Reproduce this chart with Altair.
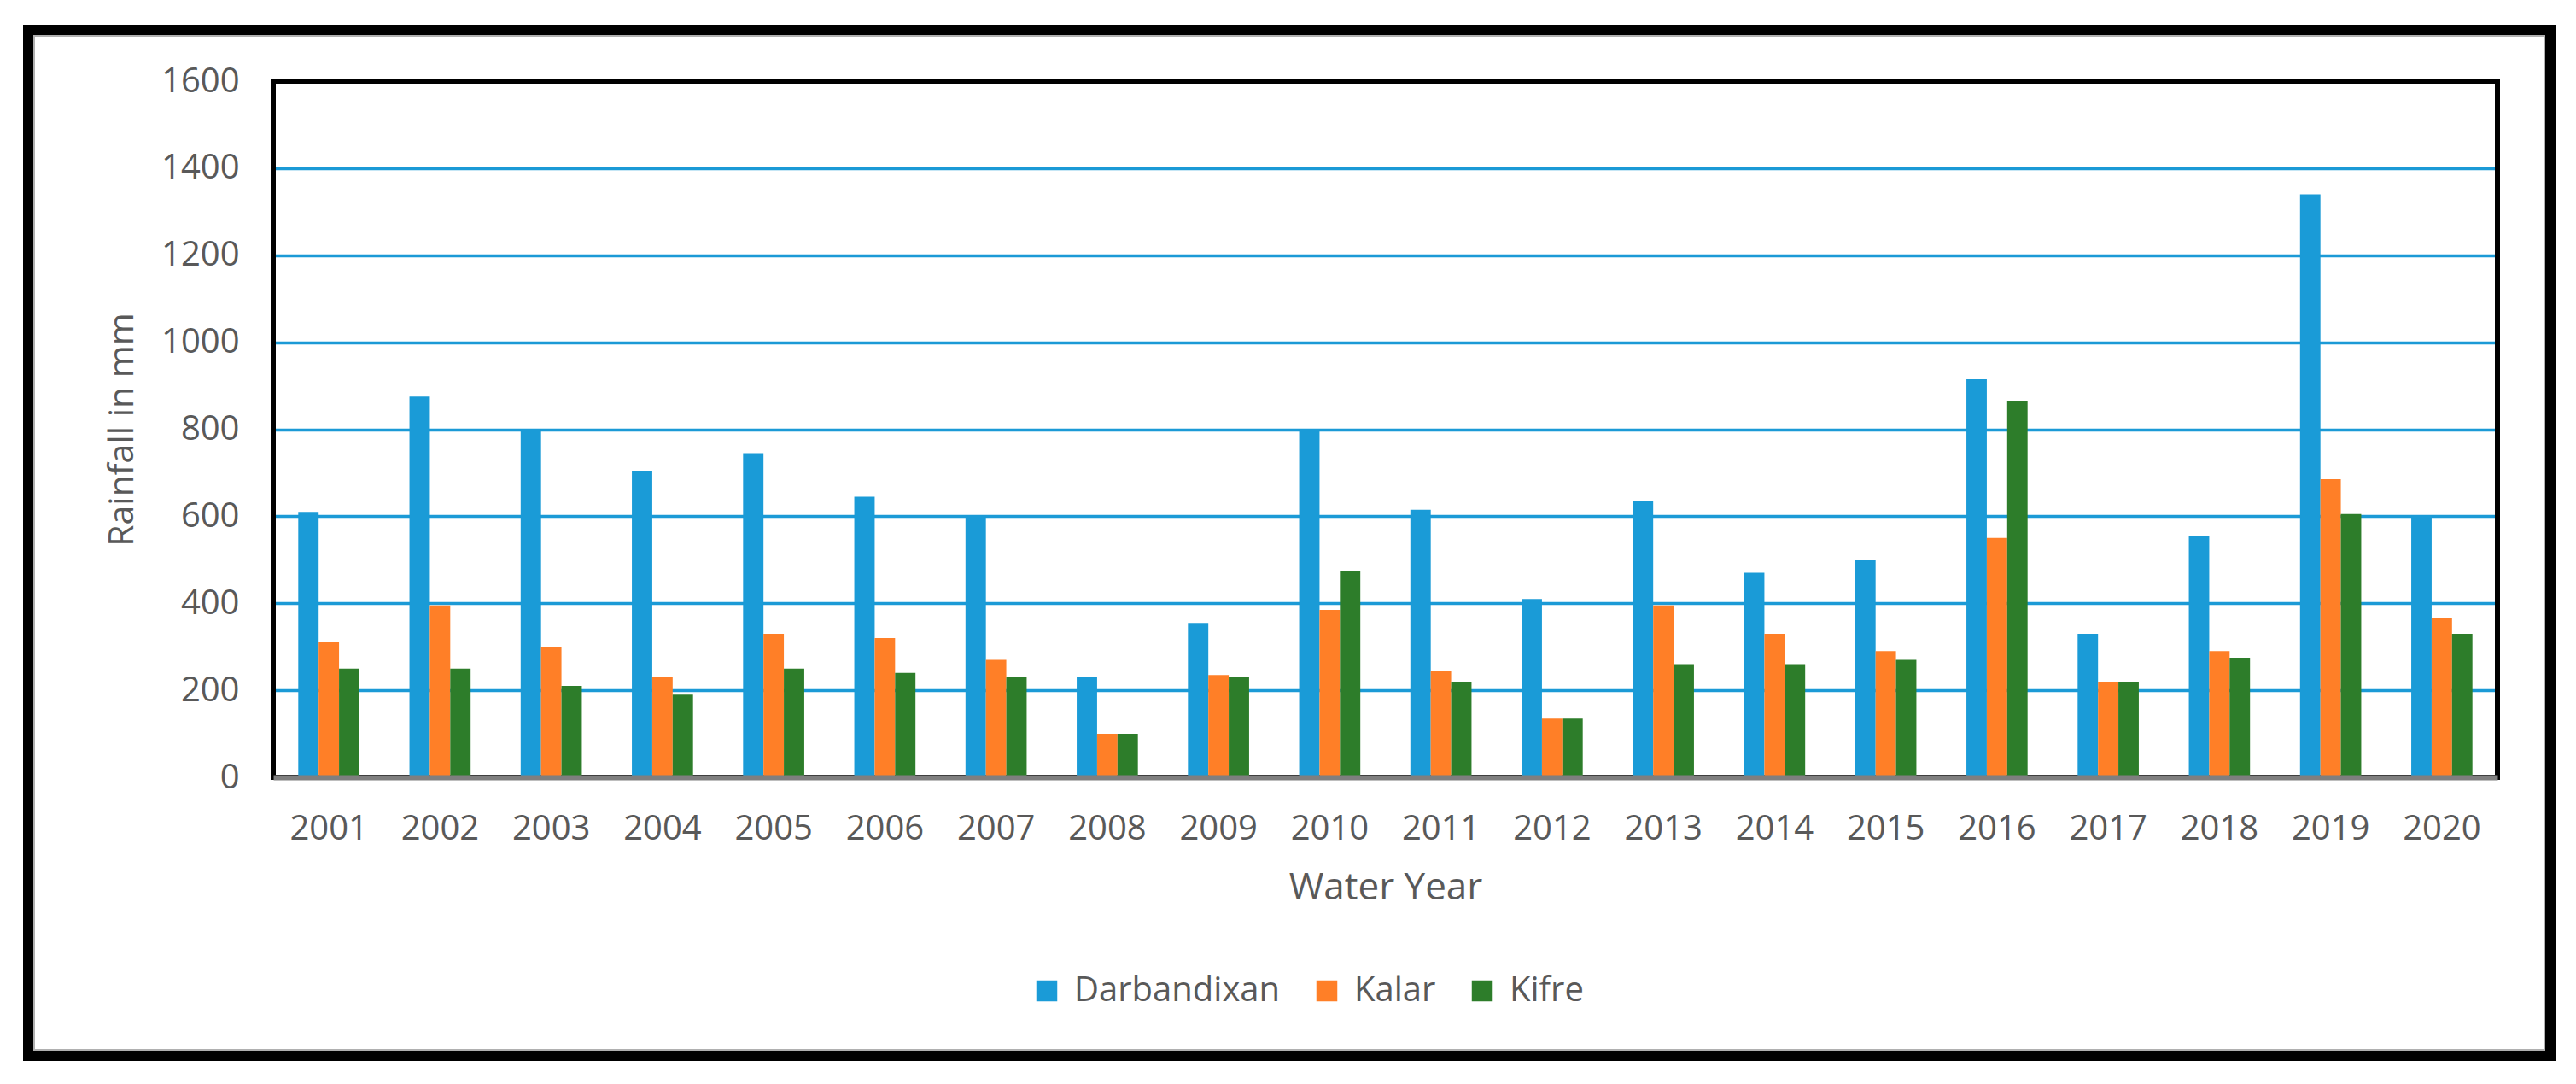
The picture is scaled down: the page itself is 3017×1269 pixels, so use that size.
import altair as alt
import pandas as pd

years = [str(y) for y in range(2001, 2021)]
stations = ["Darbandixan", "Kalar", "Kifre"]
darbandixan = [610, 875, 800, 705, 745, 645, 600, 230, 355, 800,
               615, 410, 635, 470, 500, 915, 330, 555, 1340, 600]
kalar = [310, 395, 300, 230, 330, 320, 270, 100, 235, 385,
         245, 135, 395, 330, 290, 550, 220, 290, 685, 365]
kifre = [250, 250, 210, 190, 250, 240, 230, 100, 230, 475,
         220, 135, 260, 260, 270, 865, 220, 275, 605, 330]
colors = ["#1a9bd7", "#ff7f27", "#2d7d2a"]

rows = []
for name, vals in zip(stations, [darbandixan, kalar, kifre]):
    for y, v in zip(years, vals):
        rows.append({"year": y, "station": name, "rain": v})
df = pd.DataFrame(rows)

W, H = 2605, 815
FONT = "Open Sans"
GREY = "#595959"

bars = alt.Chart(df).mark_bar().encode(
    x=alt.X("year:N", sort=years,
            scale=alt.Scale(paddingInner=0.45, paddingOuter=0.225),
            axis=alt.Axis(title="Water Year", labelAngle=0, labelFont=FONT,
                          labelFontSize=40, labelColor=GREY, labelPadding=40,
                          ticks=False, tickSize=0, domainColor="#7f7f7f",
                          domainWidth=6, zindex=1, titleFont=FONT, titleFontSize=44,
                          titleColor=GREY, titleFontWeight="normal",
                          titleBaseline="alphabetic", titleY=142)),
    xOffset=alt.XOffset("station:N", sort=stations,
                        scale=alt.Scale(paddingInner=0, paddingOuter=0)),
    y=alt.Y("rain:Q",
            scale=alt.Scale(domain=[0, 1600], nice=False),
            axis=alt.Axis(title="Rainfall in mm", values=list(range(0, 1601, 200)),
                          format="d",
                          labelFont=FONT, labelFontSize=40, labelColor=GREY,
                          labelPadding=40, ticks=False, tickSize=0, domain=False,
                          grid=True, gridWidth=3.5,
                          gridColor=alt.condition("datum.value >= 1600 || datum.value <= 0",
                                                  alt.value("black"), alt.value("#1b9ad6")),
                          titleFont=FONT, titleFontSize=41, titleColor=GREY,
                          titleFontWeight="normal", titleBaseline="alphabetic",
                          titleX=-165, titleY=H / 2)),
    color=alt.Color("station:N", sort=stations,
                    scale=alt.Scale(domain=stations, range=colors),
                    legend=alt.Legend(title=None, orient="none", direction="horizontal",
                                      legendX=886, legendY=1045, padding=0,
                                      symbolType="square", symbolSize=600,
                                      symbolStrokeWidth=0, labelFont=FONT,
                                      labelFontSize=40, labelColor=GREY,
                                      labelLimit=1000,
                                      labelOffset=12, columnPadding=34)),
)

frame_df = pd.DataFrame({"k": [0]})
frame = alt.Chart(frame_df).mark_rect(filled=False, stroke="black", strokeWidth=12).encode(
    x=alt.value(-287), x2=alt.value(2667), y=alt.value(-60), y2=alt.value(1141)
)
inner = alt.Chart(frame_df).mark_rect(filled=False, stroke="#b0b0b0", strokeWidth=2).encode(
    x=alt.value(-280), x2=alt.value(2660), y=alt.value(-53), y2=alt.value(1134)
)
border = alt.Chart(frame_df).mark_rect(filled=False, stroke="black", strokeWidth=6).encode(
    x=alt.value(0), x2=alt.value(W), y=alt.value(0), y2=alt.value(H)
)

chart = alt.layer(frame, inner, border, bars).properties(
    width=W, height=H,
    autosize=alt.AutoSizeParams(type="none"),
    padding={"left": 312, "top": 87, "right": 80, "bottom": 345},
).configure_view(stroke=None).configure(background="white")

chart.save("out.html", embed_options={"renderer": "svg", "actions": False})
